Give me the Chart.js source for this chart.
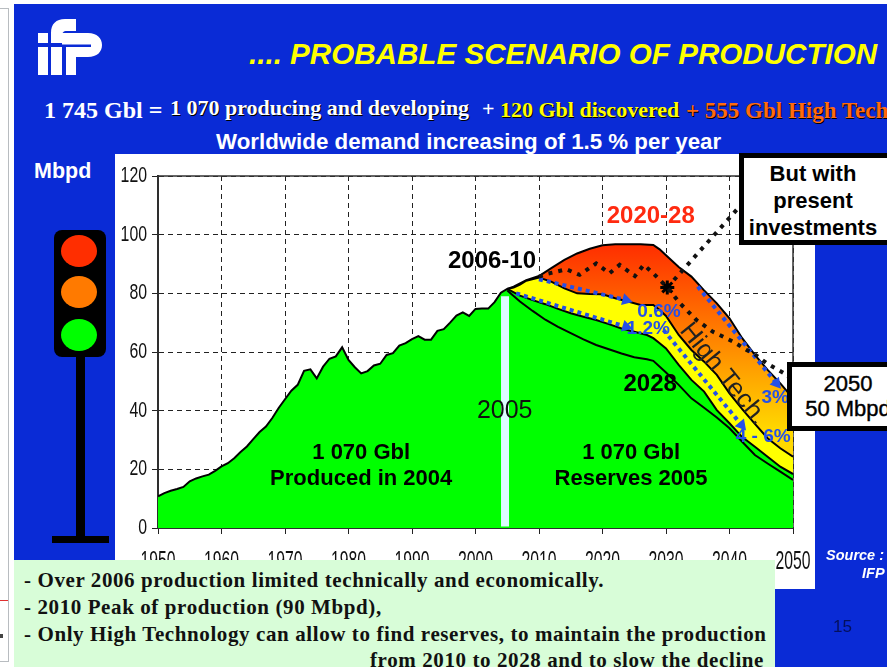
<!DOCTYPE html>
<html>
<head>
<meta charset="utf-8">
<script src="https://cdn.jsdelivr.net/npm/chart.js@4.4.0/dist/chart.umd.min.js"></script>
<style>
  html,body{margin:0;padding:0;background:#fff;width:887px;height:667px;overflow:hidden}
  #stage{position:relative;width:887px;height:667px;overflow:hidden}
  .box{position:absolute}
  .t{position:absolute;white-space:nowrap;line-height:1}
  .sans{font-family:"Liberation Sans",Arial,sans-serif;font-weight:bold}
  .serif{font-family:"Liberation Serif","Times New Roman",serif;font-weight:bold}
  canvas{position:absolute;left:0;top:0}
  .call{position:absolute;background:#fff;border:5px solid #000;box-sizing:border-box;color:#000;text-align:center;font:bold 22px/27px "Liberation Sans",Arial,sans-serif}
  .note{font-size:21px;letter-spacing:.6px;color:#111}
</style>
</head>
<body>
<div id="stage">
  <!-- left window strip -->
  <div class="box" style="left:0;top:8px;width:8px;height:652px;border:1px solid #b8bcc0;border-left:0"></div>
  <div class="box" style="left:0;top:600px;width:8px;height:1px;background:#e03030"></div>
  <div class="box" style="left:0;top:634px;width:3px;height:4px;background:#444"></div>

  <div class="box" style="left:14px;top:4px;width:873px;height:663px;background:#0a2bd6"></div>
  <div class="box" style="left:115px;top:154px;width:700px;height:435px;background:#fff"></div>

  <svg class="box" style="left:0;top:0" width="120" height="90">
    <g fill="#fff">
      <rect x="38" y="33" width="10" height="10"/><rect x="38" y="47" width="10" height="28"/>
      <path d="M51 75V33C51 24 56 19 65 19H76V31H67C63 31 62 33 62 36V43H51V47H62V75Z"/>
      <path d="M48 33H88C97 33 102 38 102 45C102 52 97 57 88 57H76V75H66V47H91V44.5H62V33Z"/>
    </g>
  </svg>

  <div class="t sans" style="left:249px;top:39px;font-size:29.6px;font-style:italic;color:#ffff00">.... PROBABLE SCENARIO OF PRODUCTION</div>

  <div class="t serif" style="left:44px;top:98px;font-size:24px;color:#fff">1 745 Gbl =</div>
  <div class="t serif" style="left:170px;top:97px;font-size:22px;color:#fff;text-shadow:1px 1px 0 #000">1 070 producing and developing</div>
  <div class="t serif" style="left:482px;top:98px;font-size:22px;color:#fff">+</div>
  <div class="t serif" style="left:500px;top:99px;font-size:22px;color:#ffff00;text-shadow:1px 1px 0 #000">120 Gbl discovered</div>
  <div class="t serif" style="left:686px;top:99px;font-size:23px;color:#ff6a10;text-shadow:1px 1px 0 #000">+ 555 Gbl High Tech</div>
  <div class="t sans" style="left:216px;top:131px;font-size:22.3px;color:#fff">Worldwide demand increasing of 1.5 % per year</div>
  <div class="t sans" style="left:34px;top:161px;font-size:21.5px;color:#fff">Mbpd</div>

  <!-- traffic light -->
  <div class="box" style="left:76px;top:350px;width:9px;height:190px;background:#000"></div>
  <div class="box" style="left:52px;top:536px;width:57px;height:7px;background:#000"></div>
  <div class="box" style="left:54px;top:230px;width:52px;height:127px;background:#000;border-radius:8px"></div>
  <div class="box" style="left:61px;top:235px;width:36px;height:32px;background:#ff2e00;border-radius:50%"></div>
  <div class="box" style="left:61px;top:276px;width:36px;height:32px;background:#ff7a00;border-radius:50%"></div>
  <div class="box" style="left:61px;top:319px;width:36px;height:32px;background:#00ff00;border-radius:50%"></div>

  <canvas id="pc" width="887" height="667"></canvas>

  <div class="call" style="left:739px;top:153px;width:170px;height:92px;padding:2px 22px 0 0">But with<br>present<br>investments</div>
  <div class="call" style="left:787px;top:362px;width:130px;height:69px;padding:4px 8px 0 0;line-height:25px;font-weight:normal;-webkit-text-stroke:0.4px #000">2050<br>50 Mbpd</div>

  <div class="box" style="left:14px;top:560px;width:761px;height:107px;background:#d8fdd8"></div>
  <div class="t serif note" style="left:24px;top:570px">- Over 2006 production limited technically and economically.</div>
  <div class="t serif note" style="left:24px;top:597px">- 2010 Peak of production (90 Mbpd),</div>
  <div class="t serif note" style="left:24px;top:624px">- Only High Technology can allow to find reserves, to maintain the production</div>
  <div class="t serif note" style="left:370px;top:650px">from 2010 to 2028 and to slow the decline</div>

  <div class="t sans" style="left:826px;top:548px;font-size:14.5px;font-style:italic;color:#fff">Source :</div>
  <div class="t sans" style="left:862px;top:566px;font-size:14.5px;font-style:italic;color:#fff">IFP</div>
  <div class="t" style="left:833px;top:617px;font:17px 'Liberation Sans',Arial,sans-serif;color:#04105c">15</div>
</div>

<script>
  var histYears = [1950,1951,1952,1953,1954,1955,1956,1957,1958,1959,1960,1961,1962,1963,1964,1965,1966,1967,1968,1969,1970,1971,1972,1973,1974,1975,1976,1977,1978,1979,1980,1981,1982,1983,1984,1985,1986,1987,1988,1989,1990,1991,1992,1993,1994,1995,1996,1997,1998,1999,2000,2001,2002,2003,2004,2005];
  var histVals = [10.8,11.9,12.7,13.3,14,15.9,16.9,17.6,18.2,19.5,21,22.1,23.8,25.9,27.8,30.3,32.7,34.6,37.5,40.9,43.9,46.8,48.8,53.6,54.1,51,55,57.7,58.5,61.6,57.3,54.8,52.7,53.5,55.4,56,59,59.6,62.2,63,64.4,65.4,64.2,64.2,67.2,67.8,70,72.4,73.5,72.3,74.7,74.8,74.8,77,80.2,81.5];

  // high tech curve, top of the red area
  var techYears = [2005,2006,2008,2010,2012,2014,2016,2018,2020,2022,2024,2026,2028,2029,2030,2032,2034,2036,2038,2040,2042,2044,2046,2048,2050];
  var techVals = [81.5,82.3,84.5,85.9,88.7,91.4,93.6,95.2,96.4,96.7,96.7,96.7,96.5,95,93,89,85.7,81,76.6,71.5,64.7,59,53.9,49.3,44.2];

  // discovered curve, top of the yellow area
  var discYears = [2005,2006,2007,2008,2010,2012,2014,2016,2018,2020,2022,2024,2026,2028,2029,2030,2032,2034,2036,2038,2040,2042,2044,2046,2048,2050];
  var discVals = [81.5,82,83,84.3,85.4,83.9,81.7,80,79.8,79.7,78.3,77.2,76,76,74.3,72.3,65.8,60.7,56.7,52.2,45.9,40.5,35.5,30.6,27.2,24.3];

  // reserves curve, top of the green area after 2005
  var resYears = [2007,2009,2011,2013,2015,2017,2019,2021,2023,2025,2027,2028,2029,2030,2032,2034,2036,2038,2040,2042,2044,2046,2048,2050];
  var resVals = [79.2,77.7,76.3,74.7,73.2,72,70.9,69.5,68,66.9,65.8,64.7,63,61.2,55.6,50.5,46.5,40.2,35.7,31,27.7,24.3,20.9,18.4];

  // inner black line in the green area
  var innerYears = [2005,2007,2009,2011,2013,2015,2017,2019,2023,2025,2027,2028,2030,2032,2034,2036,2038,2040,2042,2044,2046,2048,2050];
  var innerVals = [81,77.2,74,71,68.6,66.4,64.3,62.4,59.5,58.2,57.5,57,53,48.8,44.2,41,37.7,34,29.4,24.9,22,19.2,16.4];

  // present investments, dotted
  var investYears = [2010,2011.2,2014.3,2016.4,2019,2021.1,2022.7,2025.1,2026.5,2028,2030.2,2032.2,2034.8,2037.4,2040.6,2042.7,2043.8,2045.9,2049,2050];
  var investVals = [85.7,86.6,88.2,86.3,90.2,86.8,89.7,85.9,89.7,86.8,82,76.6,70.9,66.9,63.5,60.7,59.5,56.1,52.2,50];
  var leaderYears = [2030.2,2043];
  var leaderVals = [82,113];

  var xTicks = [1950,1960,1970,1980,1990,2000,2010,2020,2030,2040,2050];
  var yTicks = [0,20,40,60,80,100,120];

  var eb=s=>document.getElementById(s);
  var zip=(xs,ys)=>xs.map((x,i)=>({x:x,y:ys[i]}));
  var blue='#2550e8';

  function redFill(ctx){
    var a=ctx.chart.chartArea;
    if(!a) return '#ff6a00';
    var g=ctx.chart.ctx.createLinearGradient(0,240,0,430);
    g.addColorStop(0,'#ff2a00');
    g.addColorStop(0.5,'#ff8000');
    g.addColorStop(1,'#ffd800');
    return g;
  }

  function blueLine(x0,y0,x1,y1,rot){
    return {data:[{x:x0,y:y0},{x:x1,y:y1}],borderColor:blue,borderWidth:4,borderDash:[4,4],
      pointRadius:[0,7],pointStyle:'triangle',pointRotation:rot,pointBackgroundColor:blue,pointBorderWidth:0,fill:false,order:1};
  }

  // in-plot labels, placed in data units
  var notes = [
    {s:'1 070 Gbl',x:1982,y:25.6,f:'bold 22px "Liberation Sans"',c:'#000'},
    {s:'Produced in 2004',x:1982,y:16.7,f:'bold 22px "Liberation Sans"',c:'#000'},
    {s:'1 070 Gbl',x:2024.5,y:25.6,f:'bold 22px "Liberation Sans"',c:'#000'},
    {s:'Reserves 2005',x:2024.5,y:16.7,f:'bold 22px "Liberation Sans"',c:'#000'},
    {s:'2005',x:2004.6,y:40,f:'25px "Liberation Sans"',c:'#111'},
    {s:'2028',x:2027.5,y:49,f:'bold 24px "Liberation Sans"',c:'#000'},
    {s:'2006-10',x:2002.6,y:91,f:'bold 24px "Liberation Sans"',c:'#000'},
    {s:'2020-28',x:2027.6,y:106.4,f:'bold 24px "Liberation Sans"',c:'#ff2a10'},
    {s:'0.6%',x:2028.9,y:73.6,f:'bold 19px "Liberation Sans"',c:blue},
    {s:'1.2%',x:2027.2,y:67.8,f:'bold 19px "Liberation Sans"',c:blue},
    {s:'3%',x:2047.2,y:44.3,f:'bold 19px "Liberation Sans"',c:blue},
    {s:'4 - 6%',x:2045.3,y:31,f:'bold 19px "Liberation Sans"',c:blue},
    {s:'High Tech.',x:2039,y:52.5,f:'26px "Liberation Sans"',c:'#222',r:51}
  ];

  var frame={id:'frame',beforeDatasetsDraw(c){
    var a=c.chartArea,x=c.ctx;
    x.save();
    x.strokeStyle='#333';x.lineWidth=1.5;
    x.strokeRect(a.left,a.top,a.width,a.height);
    x.restore();
  }};
  var texts={id:'texts',afterDatasetsDraw(c){
    var x=c.ctx;
    notes.forEach(n=>{
      x.save();
      x.translate(c.scales.x.getPixelForValue(n.x),c.scales.y.getPixelForValue(n.y));
      if(n.r) x.rotate(n.r*Math.PI/180);
      x.font=n.f;x.fillStyle=n.c;x.textAlign='center';x.textBaseline='middle';
      x.fillText(n.s,0,0);
      x.restore();
    });
  }};
  // the reference tick labels are squeezed sideways, no narrow font is installed
  var tickText={id:'tickText',afterDraw(c){
    var x=c.ctx;
    x.save();
    x.fillStyle='#111';x.textBaseline='middle';
    x.font='25px "Liberation Sans"';x.textAlign='center';
    xTicks.forEach(v=>{
      x.save();
      x.translate(c.scales.x.getPixelForValue(v),562);
      x.scale(0.63,1);
      x.fillText(String(v),0,0);
      x.restore();
    });
    x.font='22px "Liberation Sans"';x.textAlign='right';
    yTicks.forEach(v=>{
      x.save();
      x.translate(147,c.scales.y.getPixelForValue(v));
      x.scale(0.72,1);
      x.fillText(String(v),0,0);
      x.restore();
    });
    x.restore();
  }};

  var pc = new Chart(eb('pc'), {
    type:'line',
    data:{datasets:[
      // drawn last to first by order value
      {data:[{x:2004.65,y:0.5},{x:2004.65,y:79}],borderColor:'#dcfbff',borderWidth:8,pointRadius:0,fill:false,order:2},
      {data:zip(investYears,investVals),borderColor:'#111',borderWidth:4,borderDash:[4,6],pointRadius:0,fill:false,order:1},
      {data:zip(leaderYears,leaderVals),borderColor:'#111',borderWidth:4,borderDash:[4,6],pointRadius:[7,0],pointStyle:'star',pointBorderColor:'#000',pointBorderWidth:3,fill:false,order:1},
      blueLine(2010,84.8,2023.7,77.7,105),
      blueLine(2006.4,80,2023.7,68.6,107),
      blueLine(2035,82.3,2047.4,49.3,140),
      blueLine(2029.6,67.5,2041.9,35.1,140),
      {data:zip(innerYears,innerVals),borderColor:'#000',borderWidth:2,pointRadius:0,fill:false,order:3},
      {data:zip(histYears,histVals).concat(zip(resYears,resVals)),borderColor:'#000',borderWidth:2,pointRadius:0,fill:'origin',backgroundColor:'#00ff00',order:4},
      {data:zip(discYears,discVals),borderColor:'#000',borderWidth:2,pointRadius:0,fill:'origin',backgroundColor:'#ffff00',order:5},
      {data:zip(techYears,techVals),borderColor:'#000',borderWidth:2,pointRadius:0,fill:'origin',backgroundColor:redFill,order:6}
    ]},
    options:{
      responsive:false,
      animation:false,
      parsing:false,
      layout:{padding:{left:110,right:94,top:176,bottom:100}},
      plugins:{legend:{display:false},title:{display:false},tooltip:{enabled:false}},
      elements:{line:{tension:0,borderCapStyle:'butt'}},
      scales:{
        x:{
          type:'linear',min:1950,max:2050,
          afterBuildTicks:s=>{s.ticks=xTicks.map(v=>({value:v}));},
          afterFit:s=>{s.height=39;s.paddingLeft=0;s.paddingRight=0;},
          grid:{color:'#222',lineWidth:1,tickLength:6,tickColor:'#222'},
          border:{color:'#222',width:2,dash:[5,4]},
          ticks:{display:false}
        },
        y:{
          min:0,max:120,
          afterBuildTicks:s=>{s.ticks=yTicks.map(v=>({value:v}));},
          afterFit:s=>{s.width=48;s.paddingTop=0;s.paddingBottom=0;},
          grid:{color:'#222',lineWidth:1,tickLength:6,tickColor:'#222'},
          border:{color:'#222',width:2,dash:[5,4]},
          ticks:{display:false}
        }
      }
    },
    plugins:[frame,texts,tickText]
  });
</script>
</body>
</html>
